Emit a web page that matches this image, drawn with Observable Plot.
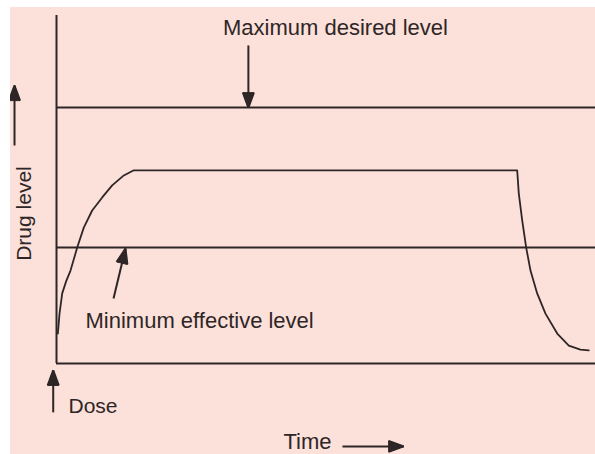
<!DOCTYPE html>
<html>
<head>
<meta charset="utf-8">
<script src="https://cdn.jsdelivr.net/npm/d3@7"></script>
<script src="https://cdn.jsdelivr.net/npm/@observablehq/plot@0.6"></script>
<style>
  html, body { margin: 0; padding: 0; background: #ffffff; }
  #chart { padding-left: 10px; padding-top: 7px; width: 585px; }
  #chart svg { overflow: hidden; }
</style>
</head>
<body>
<div id="chart"></div>
<script>
// ---- data (time in arbitrary units, drug level in arbitrary units) ----
const curveTime  = [0.25, 0.56, 1.06, 1.8, 2.6, 3.84, 5.06, 6.62, 8.48, 10.33, 12.49, 14.34, 85.47, 85.77, 86.4, 87.14, 87.94, 89.18, 90.72, 92.9, 95.05, 97.2, 98.76];
const curveLevel = [11.7, 19.5, 27.4, 32.2, 36.3, 45.3, 53.1, 59.8, 64.9, 69.6, 73.5, 75.5, 75.5, 66.4, 55.9, 45.3, 36.3, 27.4, 19.5, 11.7, 7.0, 5.4, 5.1];

const maxDesiredLevel = 100;
const minEffectiveLevel = 45.3;

// annotation arrows: tail (x1,y1) -> tip (x2,y2)
const arrowX1 = [35.6, 10.58, -0.61, 53.06, -7.79];
const arrowY1 = [124.3, 25.4, -19.1, -32.4, 85.2];
const arrowX2 = [35.6, 12.8, -0.61, 64.4, -7.79];
const arrowY2 = [100, 44.9, -2.7, -32.4, 108.6];

// annotation labels
const labelText = ["Maximum desired level", "Minimum effective level", "Dose", "Time", "Drug level"];
const labelX = [51.76, 5.38, 2.23, 42.1, -4.82];
const labelY = [128.2, 13.7, -19.5, -33.4, 58.6];

// ---- build ----
const W = 585, H = 447;
const mL = 46, mR = 0, mT = 8, mB = 91;
const xDomain = [0, 100], yDomain = [0, 136];
const ink = "#2e2626";
const font = "'Liberation Sans', Arial, sans-serif";

const curve = curveTime.map((t, i) => ({t, level: curveLevel[i]}));
const arrows = arrowX1.map((x1, i) => ({x1, y1: arrowY1[i], x2: arrowX2[i], y2: arrowY2[i]}));
const labels = labelText.map((text, i) => ({text, x: labelX[i], y: labelY[i]}));

// same mappings as the plot's scales, used only to shape arrowheads
const sx = d3.scaleLinear(xDomain, [mL, W - mR]);
const sy = d3.scaleLinear(yDomain, [H - mB, mT]);

const headLen = 15, headHalf = 5.5;
const heads = [];
arrows.forEach((a, k) => {
  const px1 = sx(a.x1), py1 = sy(a.y1);
  const px2 = sx(a.x2), py2 = sy(a.y2);
  const len = Math.hypot(px2 - px1, py2 - py1);
  const ux = (px2 - px1) / len, uy = (py2 - py1) / len;
  const bx = px2 - ux * headLen, by = py2 - uy * headLen;
  heads.push({
    id: k,
    x1: sx.invert(bx - uy * headHalf), y1: sy.invert(by + ux * headHalf),
    x2: sx.invert(bx + uy * headHalf), y2: sy.invert(by - ux * headHalf),
    x3: a.x2, y3: a.y2
  });
});
// flatten head triangles into a closed polygon table
const headPoly = heads.flatMap(h => [
  {id: h.id, x: h.x3, y: h.y3},
  {id: h.id, x: h.x1, y: h.y1},
  {id: h.id, x: h.x2, y: h.y2},
  {id: h.id, x: h.x3, y: h.y3}
]);

const textStyle = {fill: ink, fontFamily: font, lineAnchor: "bottom"};

const plot = Plot.plot({
  width: W, height: H,
  marginLeft: mL, marginRight: mR, marginTop: mT, marginBottom: mB,
  x: {domain: xDomain, axis: null},
  y: {domain: yDomain, axis: null},
  style: {background: "#fce0da", overflow: "hidden"},
  marks: [
    Plot.ruleX([0], {stroke: ink, strokeWidth: 2}),
    Plot.ruleY([0], {stroke: ink, strokeWidth: 2}),
    Plot.ruleY([maxDesiredLevel], {stroke: ink, strokeWidth: 2}),
    Plot.ruleY([minEffectiveLevel], {stroke: ink, strokeWidth: 2}),
    Plot.line(curve, {x: "t", y: "level", stroke: ink, strokeWidth: 1.8, curve: "linear"}),
    Plot.link(arrows, {x1: "x1", y1: "y1", x2: "x2", y2: "y2", stroke: ink, strokeWidth: 2}),
    Plot.link(heads, {x1: "x1", y1: "y1", x2: "x3", y2: "y3", stroke: ink, strokeWidth: 2}),
    Plot.link(heads, {x1: "x2", y1: "y2", x2: "x3", y2: "y3", stroke: ink, strokeWidth: 2}),
    Plot.line(headPoly, {x: "x", y: "y", z: "id", fill: ink, stroke: ink, strokeWidth: 1}),
    Plot.text([labels[0]], {x: "x", y: "y", text: "text", textAnchor: "middle", fontSize: 22, ...textStyle}),
    Plot.text([labels[1]], {x: "x", y: "y", text: "text", textAnchor: "start", fontSize: 22, ...textStyle}),
    Plot.text([labels[2]], {x: "x", y: "y", text: "text", textAnchor: "start", fontSize: 21, ...textStyle}),
    Plot.text([labels[3]], {x: "x", y: "y", text: "text", textAnchor: "start", fontSize: 22, ...textStyle}),
    Plot.text([labels[4]], {x: "x", y: "y", text: "text", textAnchor: "middle", rotate: -90, fontSize: 21, ...textStyle})
  ]
});
document.getElementById("chart").appendChild(plot);
</script>
</body>
</html>
